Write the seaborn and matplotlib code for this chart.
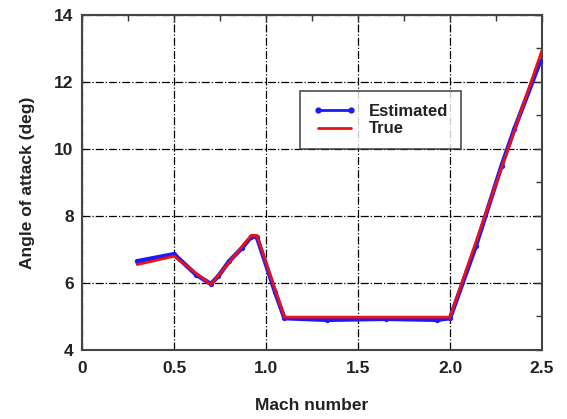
import matplotlib
matplotlib.use("Agg")
import matplotlib.pyplot as plt
from matplotlib.ticker import MultipleLocator
from matplotlib.lines import Line2D
import seaborn as sns
import pandas as pd

# Estimated angle of attack along the Mach schedule
mach_est = [0.30, 0.50, 0.62, 0.70, 0.74, 0.80, 0.87, 0.92, 0.95, 1.05,
            1.10, 1.33, 1.65, 1.93, 2.00, 2.14, 2.28, 2.35, 2.49]
aoa_est = [6.65, 6.86, 6.25, 5.97, 6.20, 6.65, 7.05, 7.38, 7.38, 5.72,
           4.95, 4.90, 4.93, 4.90, 4.95, 7.10, 9.50, 10.60, 12.62]

# True angle of attack
mach_true = [0.30, 0.50, 0.70, 0.92, 0.95, 1.10, 2.00, 2.50]
aoa_true = [6.55, 6.80, 5.95, 7.42, 7.42, 4.98, 4.98, 12.95]

x_ticks = [0, 0.5, 1.0, 1.5, 2.0, 2.5]
x_tick_labels = ["0", "0.5", "1.0", "1.5", "2.0", "2.5"]
y_ticks = [4, 6, 8, 10, 12, 14]

BLUE = "#1a1aff"
RED = "#ee1111"

sns.set_style("white")
plt.rcParams["font.family"] = ["Liberation Sans", "DejaVu Sans"]
plt.rcParams["font.weight"] = "bold"

fig = plt.figure(figsize=(5.67, 4.19), dpi=100)
ax = fig.add_axes([0.1446, 0.1647, 0.8114, 0.7995])

est = pd.DataFrame({"Mach": mach_est, "AoA": aoa_est})
tru = pd.DataFrame({"Mach": mach_true, "AoA": aoa_true})

sns.lineplot(data=est, x="Mach", y="AoA", ax=ax, color=BLUE, lw=3.2,
             marker="o", markersize=3.8, markeredgewidth=0,
             sort=False, zorder=3, legend=False)
sns.lineplot(data=tru, x="Mach", y="AoA", ax=ax, color=RED, lw=2.0,
             sort=False, zorder=4, legend=False)

ax.set_xlim(0, 2.5)
ax.set_ylim(4, 14)
ax.set_xticks(x_ticks)
ax.set_xticklabels(x_tick_labels)
ax.set_yticks(y_ticks)
ax.xaxis.set_minor_locator(MultipleLocator(0.25))
ax.yaxis.set_minor_locator(MultipleLocator(1))

ax.grid(True, which="major", color="black", linestyle="-.", linewidth=0.9)
ax.tick_params(which="both", direction="in", top=True, right=True,
               colors="#333333", labelcolor="#222222", labelsize=12.5,
               width=1.0)
ax.tick_params(which="major", length=5)
ax.tick_params(which="minor", length=4)
ax.tick_params(axis="x", pad=8)
ax.tick_params(axis="y", pad=6)
for lab in ax.get_xticklabels() + ax.get_yticklabels():
    lab.set_fontweight("bold")

for s in ax.spines.values():
    s.set_color("#444444")
    s.set_linewidth(1.5)

ax.set_xlabel("Mach number", fontsize=12.5, fontweight="bold",
              color="#222222", labelpad=16)
ax.set_ylabel("Angle of attack (deg)", fontsize=12.5, fontweight="bold",
              color="#222222", labelpad=14)

handles = [
    Line2D([], [], color=BLUE, lw=2.0, marker="o", markersize=4.5,
           markeredgewidth=0),
    Line2D([], [], color=RED, lw=2.0),
]
leg = ax.legend(handles, ["Estimated", "True"], loc="upper left",
                bbox_to_anchor=(0.474, 0.772), numpoints=2,
                prop={"size": 12, "weight": "bold"}, frameon=True,
                fancybox=False, handlelength=2.6, borderpad=0.75,
                labelspacing=0.15, handletextpad=0.8, borderaxespad=0)
leg.get_frame().set_edgecolor("#333333")
leg.get_frame().set_linewidth(1.3)
for t in leg.get_texts():
    t.set_color("#222222")

fig.savefig("out.png", dpi=100)
